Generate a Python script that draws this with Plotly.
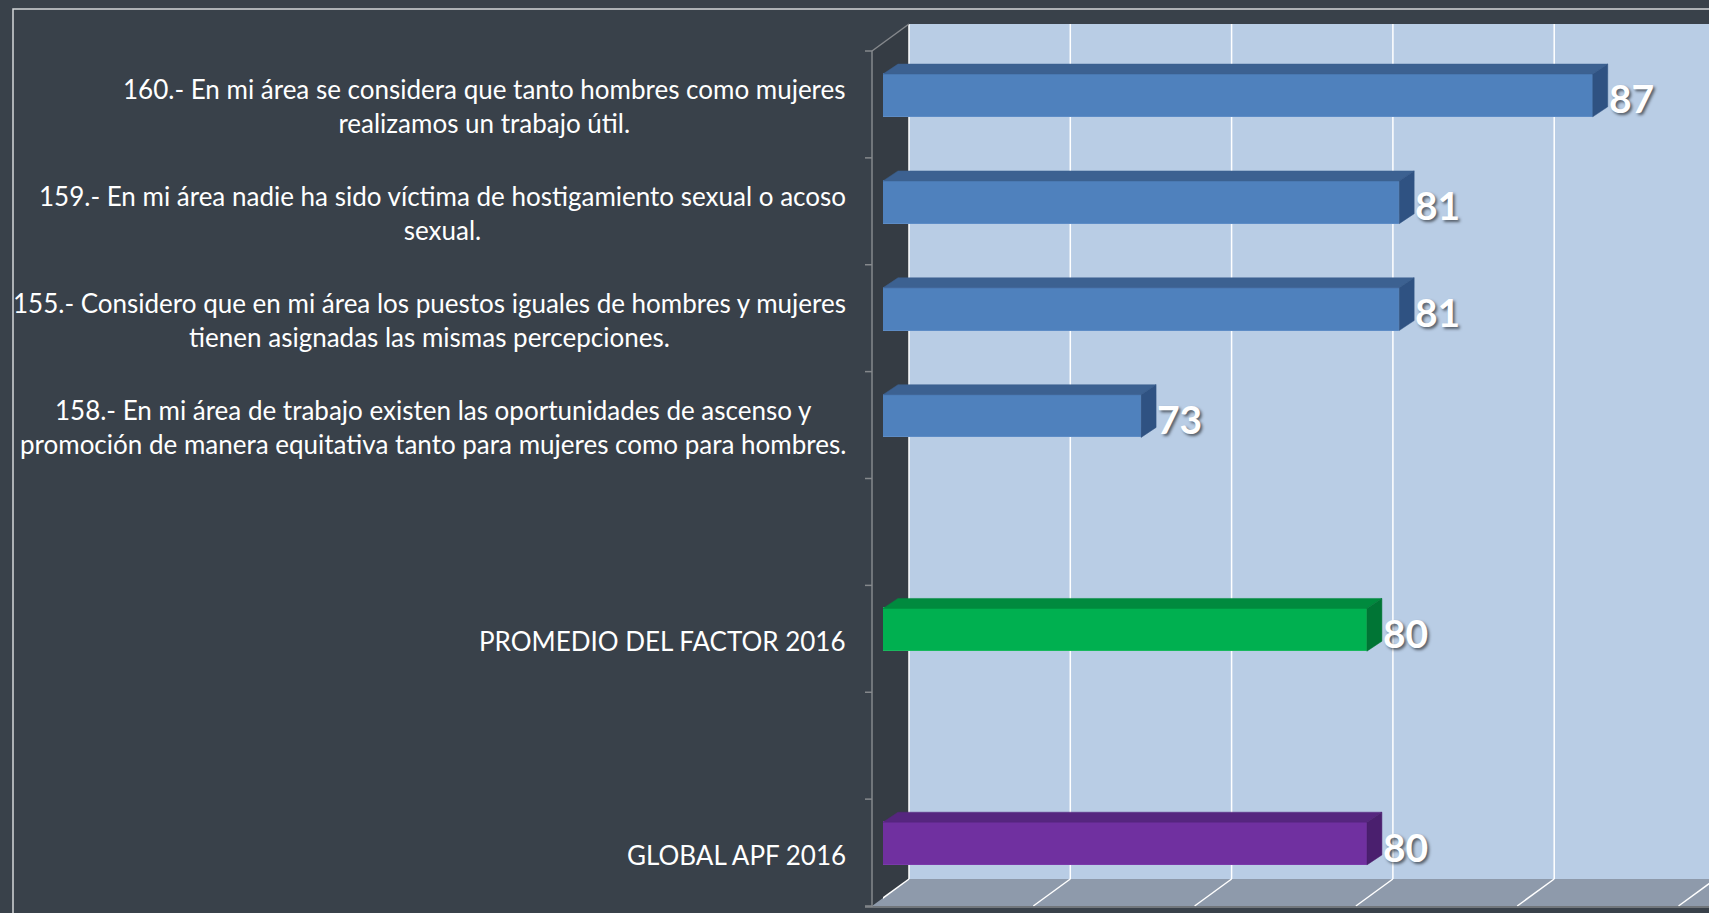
import plotly.graph_objects as go

# ---------------- data ----------------
categories = [
    "160.- En mi área se considera que tanto hombres como mujeres<br>realizamos un trabajo útil.",
    "159.- En mi área nadie ha sido víctima de hostigamiento sexual o acoso<br>sexual.",
    "155.- Considero que en mi área los puestos iguales de hombres y mujeres<br>tienen asignadas las mismas percepciones.",
    "158.- En mi área de trabajo existen las oportunidades de ascenso y<br>promoción de manera equitativa tanto para mujeres como para hombres.",
    "",
    "PROMEDIO DEL FACTOR 2016",
    "",
    "GLOBAL APF 2016",
]
values = [87, 81, 81, 73, None, 80, None, 80]
groups = ["item", "item", "item", "item", None, "factor", None, "global"]
grid_values = [65, 70, 75, 80, 85, 90]

# ---------------- styles ----------------
FACE = {"item": "#4f81bd", "factor": "#00b050", "global": "#7030a0"}
TOP = {"item": "#3c6191", "factor": "#008a3e", "global": "#56267f"}
SIDE = {"item": "#2f5282", "factor": "#007535", "global": "#4a1f6e"}
EDGE = {"item": "#5d8cc6", "factor": "#19b85e", "global": "#7a3aaa"}

W, H = 1709, 913
BG = "#39414a"
PLOT_L = 883          # pixel of axis minimum in bar plane
PX_PER_UNIT = 32.26
AXIS_MIN = 65
AXIS_MAX = AXIS_MIN + (W - PLOT_L) / PX_PER_UNIT
TOP_PX, BOT_PX = 42, 897
N = len(categories)
SLOT = (BOT_PX - TOP_PX) / N
BAR_W = 0.40
DX = 15 / PX_PER_UNIT   # bar depth (data units)
DY = 10 / SLOT


def px(x):
    return x / W


def py(y):
    return 1 - y / H


fig = go.Figure()

ypos = list(range(N))
fig.add_trace(go.Bar(
    x=values, y=ypos, orientation="h", width=BAR_W,
    marker=dict(color=[FACE.get(g, "rgba(0,0,0,0)") for g in groups],
                line=dict(color=[EDGE.get(g, "rgba(0,0,0,0)") for g in groups], width=1)),
    hoverinfo="skip", showlegend=False,
))

shapes = []
# outer frame
shapes.append(dict(type="rect", xref="paper", yref="paper", x0=px(13), x1=px(1730), y0=py(9), y1=py(940),
                   line=dict(color="#d4d6d9", width=1.5), fillcolor="rgba(0,0,0,0)", layer="below"))
# back wall
shapes.append(dict(type="rect", xref="paper", yref="paper", x0=px(909), x1=px(1760), y0=py(24), y1=py(879),
                   line=dict(width=0), fillcolor="#b9cde5", layer="below"))
# left side wall
shapes.append(dict(type="path", xref="paper", yref="paper",
                   path=f"M {px(872)} {py(51)} L {px(909)} {py(24)} L {px(909)} {py(879)} L {px(872)} {py(906)} Z",
                   line=dict(width=0), fillcolor="#353c44", layer="below"))
# floor
shapes.append(dict(type="path", xref="paper", yref="paper",
                   path=f"M {px(872)} {py(906)} L {px(909)} {py(879)} L {px(1760)} {py(879)} L {px(1760)} {py(906)} Z",
                   line=dict(width=0), fillcolor="#8e9aab", layer="below"))
# gridlines on back wall and floor
for v in grid_values:
    shapes.append(dict(type="line", xref="x", xsizemode="pixel", xanchor=v, x0=26, x1=26,
                       yref="paper", y0=py(24), y1=py(879), line=dict(color="#ffffff", width=1.5), layer="below"))
    shapes.append(dict(type="line", xref="x", xsizemode="pixel", xanchor=v, x0=26, x1=-11,
                       yref="paper", y0=py(879), y1=py(906), line=dict(color="#ffffff", width=1.5), layer="below"))
# axis lines (gray)
shapes.append(dict(type="line", xref="paper", yref="paper", x0=px(872), x1=px(872), y0=py(51), y1=py(907),
                   line=dict(color="#85888c", width=1.5)))
shapes.append(dict(type="line", xref="paper", yref="paper", x0=px(872), x1=px(909), y0=py(51), y1=py(24),
                   line=dict(color="#85888c", width=1.5)))
shapes.append(dict(type="line", xref="paper", yref="paper", x0=px(865), x1=px(1760), y0=py(907), y1=py(907),
                   line=dict(color="#85888c", width=1.5)))
for k in range(N + 1):
    yk = 51 + k * SLOT
    shapes.append(dict(type="line", xref="paper", yref="paper", x0=px(865), x1=px(872), y0=py(yk), y1=py(yk),
                       line=dict(color="#85888c", width=1.5)))

# 3D faces of the bars
for i, (v, g) in enumerate(zip(values, groups)):
    if v is None:
        continue
    yt = i - BAR_W / 2
    yb = i + BAR_W / 2
    shapes.append(dict(type="path", xref="x", yref="y",
                       path=f"M {AXIS_MIN} {yt} L {v} {yt} L {v + DX} {yt - DY} L {AXIS_MIN + DX} {yt - DY} Z",
                       line=dict(color=TOP[g], width=0.5), fillcolor=TOP[g], layer="above"))
    shapes.append(dict(type="path", xref="x", yref="y",
                       path=f"M {v} {yt} L {v + DX} {yt - DY} L {v + DX} {yb - DY} L {v} {yb} Z",
                       line=dict(color=SIDE[g], width=0.5), fillcolor=SIDE[g], layer="above"))

annotations = []
for i, (c, v) in enumerate(zip(categories, values)):
    if c:
        annotations.append(dict(text=c, xref="paper", x=px(848), xanchor="right", align="center",
                                yref="y", y=i, yanchor="middle", yshift=-11, showarrow=False,
                                font=dict(family="Lato", size=26, color="#ffffff")))
    if v is not None:
        annotations.append(dict(text=f"<b>{v}</b>", xref="x", x=v, xanchor="left", xshift=14,
                                yref="y", y=i, yanchor="middle", yshift=-3, showarrow=False,
                                font=dict(family="Lato", size=39, color="#ffffff",
                                          shadow="2px 2px 3px rgba(0,0,0,0.55)")))

fig.update_layout(
    width=W, height=H,
    margin=dict(l=0, r=0, t=0, b=0),
    paper_bgcolor=BG, plot_bgcolor="rgba(0,0,0,0)",
    xaxis=dict(domain=[px(PLOT_L), 1], range=[AXIS_MIN, AXIS_MAX], showgrid=False, zeroline=False,
               showticklabels=False, ticks="", showline=False, fixedrange=True),
    yaxis=dict(domain=[py(BOT_PX), py(TOP_PX)], range=[N - 0.5, -0.5], showgrid=False, zeroline=False,
               showticklabels=False, ticks="", showline=False, fixedrange=True),
    shapes=shapes, annotations=annotations,
    bargap=0,
)

fig.write_html("out.html", config={"displayModeBar": False},
               post_script="document.body.style.margin='0';document.body.style.overflow='hidden';"
                           "document.body.style.background='" + BG + "';")
